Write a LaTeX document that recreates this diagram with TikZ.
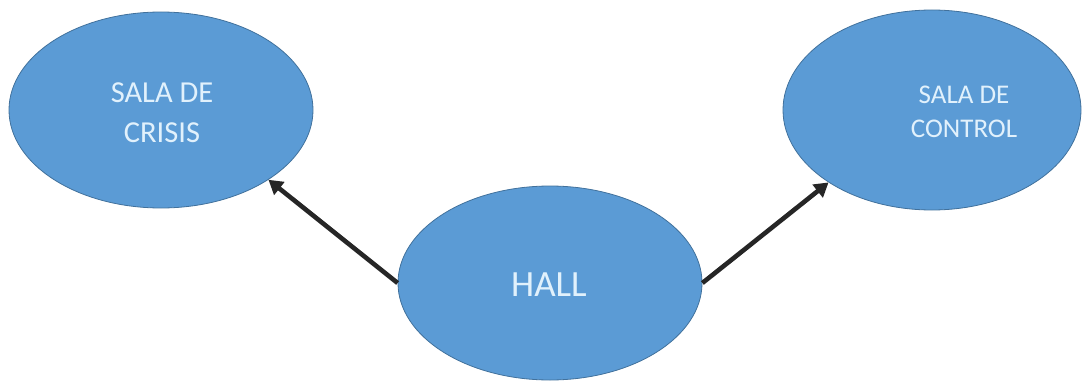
\documentclass[tikz,border=0pt]{standalone}
\usepackage{fontspec}
\setmainfont{Carlito}
\usepackage{tikz}
\usetikzlibrary{shapes.geometric}
\usetikzlibrary{arrows.meta}
\definecolor{salafill}{RGB}{91,155,213}
\definecolor{salaline}{RGB}{65,113,156}
\definecolor{salatext}{RGB}{225,241,252}

\begin{document}
\begin{tikzpicture}[x=1pt,y=1pt,
  sala/.style={ellipse,draw=salaline,line width=0.8pt,fill=salafill,inner sep=0pt,minimum width=304pt,minimum height=196pt},
  lbl/.style={text=salatext,align=center,inner sep=0pt},
  flecha/.style={line width=4.6pt,draw=black!85,-{Triangle[length=14pt,width=16pt]}}]
  \useasboundingbox (0,0) rectangle (1083,381);

  \node[sala] (crisis) at (161,271) {};
  \node[sala,minimum width=298pt,minimum height=200pt] (control) at (932,271) {};
  \node[sala,minimum height=194pt] (hall) at (550,98) {};

  \node[lbl,font=\fontsize{30.5}{40}\selectfont] (tcrisis) at (162,268) {SALA DE\\CRISIS};
  \node[lbl,font=\fontsize{27}{34}\selectfont] (tcontrol) at (964,269) {SALA DE\\CONTROL};
  \node[lbl,font=\fontsize{37}{40}\selectfont] (thall) at (549,96) {HALL};

  \draw[flecha] (hall.west) -- (crisis.-33);
  \draw[flecha] (hall.east) -- (control.215);
\end{tikzpicture}
\end{document}
